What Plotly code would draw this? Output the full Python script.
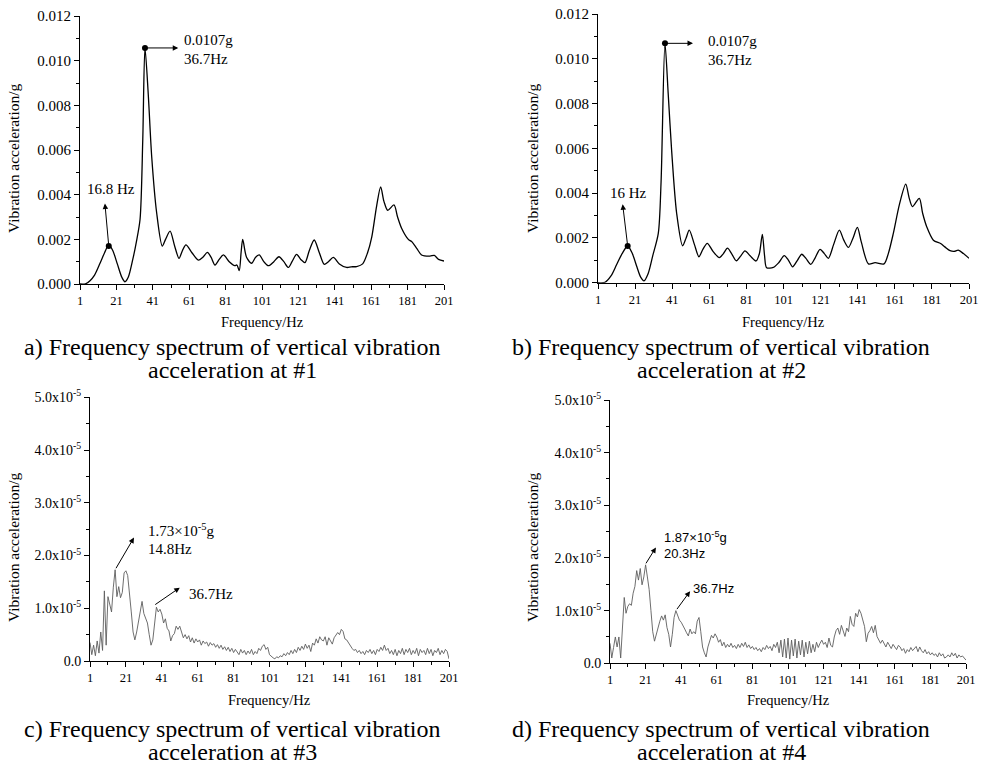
import plotly.graph_objects as go

W, H = 986, 767

# ---------------- data ----------------
# (a) #1 – smooth spectrum (frequency Hz, acceleration g)
a_freq = [1, 4, 6.5, 9, 12, 14.5, 16.8, 19, 21.5, 24, 25.7, 27.5, 30, 32, 34, 35.5, 36.7, 38.5,
          40.4, 43.1, 46.2, 48, 50.5, 53, 55.4, 57.3, 59.2, 62.5, 66, 68.5, 71, 73, 75.2, 77.5,
          79.8, 83, 86, 87.2, 88.5, 89.5, 90.4, 92.5, 95.3, 97.5, 99.5, 102, 104.5, 107.5, 110.3,
          113, 115.5, 117.5, 120, 122.3, 124.6, 127, 129.7, 132.5, 135.2, 137.5, 140.2, 143.5,
          147.5, 150, 153, 156.3, 159, 161.3, 164, 166.2, 168, 170.1, 173.5, 175.5, 177.7, 181.4,
          183.2, 186, 188.7, 193.3, 195.7, 198, 201]
a_val = [0.0, 0.00001, 0.00015, 0.0004, 0.00093, 0.0014, 0.00175, 0.0015, 0.0009, 0.0003, 0.0001,
         0.0003, 0.0011, 0.0019, 0.0029, 0.0065, 0.01057, 0.0085, 0.0057, 0.0032, 0.0017, 0.0020,
         0.00237, 0.0017, 0.00115, 0.0015, 0.00175, 0.0014, 0.00107, 0.0012, 0.00142, 0.0012,
         0.00085, 0.0011, 0.0013, 0.0010, 0.00082, 0.00085, 0.0006, 0.0014, 0.0020, 0.0012,
         0.00093, 0.0012, 0.0013, 0.0010, 0.00082, 0.0010, 0.00122, 0.0010, 0.00074, 0.0010,
         0.00133, 0.0011, 0.00096, 0.0015, 0.00197, 0.0014, 0.00088, 0.0010, 0.00119, 0.0009,
         0.00074, 0.00077, 0.00078, 0.0009, 0.0014, 0.0021, 0.0035, 0.00435, 0.0037, 0.0033,
         0.00354, 0.0030, 0.0025, 0.0020, 0.0019, 0.0016, 0.0013, 0.00125, 0.00128, 0.0011, 0.00103]
a_mark_f = [16.8, 36.7]
a_mark_v = [0.0017, 0.01057]

# (b) #2 – smooth spectrum
b_freq = [1, 4.8, 8, 11, 14, 17, 19.5, 22, 24, 25.8, 28, 30.5, 33.5, 35, 37.1, 38.8, 40.7, 43.4,
          46.6, 48.5, 50.2, 53, 55.4, 57.6, 59.9, 63, 66.4, 68.6, 70.8, 73, 75.6, 78, 80.2, 83,
          86.2, 88, 89.6, 90.8, 91.9, 95.5, 98.5, 101.4, 103.7, 105.9, 108.5, 110.8, 113, 115.7,
          118, 120.7, 123, 125.2, 128, 131.1, 133.5, 136, 138.5, 140.8, 143, 146.8, 150.4, 155.2,
          157.5, 160.2, 163.5, 166.9, 168.7, 170.5, 174.2, 176, 178.2, 181.8, 185.7, 188, 190.8,
          193, 195.2, 198, 201]
b_val = [0.0, 0.00002, 0.0003, 0.0008, 0.0013, 0.00164, 0.0013, 0.0007, 0.00025, 0.00008, 0.0004,
         0.0012, 0.0022, 0.0045, 0.01069, 0.0085, 0.0059, 0.0031, 0.00165, 0.0020, 0.00235, 0.0017,
         0.00116, 0.0015, 0.00176, 0.0014, 0.00112, 0.0013, 0.00154, 0.0013, 0.00098, 0.0012,
         0.00142, 0.0012, 0.00097, 0.0013, 0.00216, 0.0012, 0.00067, 0.00068, 0.0009, 0.00121,
         0.0010, 0.00071, 0.0010, 0.00127, 0.0011, 0.00082, 0.0011, 0.00149, 0.0013, 0.00109,
         0.0017, 0.00235, 0.0019, 0.00158, 0.0020, 0.00247, 0.0018, 0.00084, 0.0009, 0.00084,
         0.0013, 0.0022, 0.0035, 0.0044, 0.0038, 0.0034, 0.00377, 0.0031, 0.0025, 0.0019,
         0.00175, 0.0016, 0.00143, 0.0014, 0.00145, 0.0013, 0.00109]
b_mark_f = [17.0, 37.1]
b_mark_v = [0.00164, 0.01069]

# (c) #3 and (d) #4 – noisy spectra, 1 Hz steps, values in units of 1e-5 g
cd_freq = list(range(1, 202))
c_val_e5 = [
    0.35, 0.12, 0.30, 0.10, 0.38, 0.15, 0.55, 0.20, 1.33, 0.30,
    1.22, 1.10, 0.93, 1.40, 1.73, 1.22, 1.41, 1.20, 1.30, 1.67,
    1.71, 1.62, 1.20, 0.93, 0.55, 0.40, 0.55, 0.75, 0.98, 1.13,
    0.90, 0.82, 0.72, 0.50, 0.30, 0.40, 0.75, 1.02, 0.93, 0.98,
    0.89, 0.72, 0.80, 0.62, 0.57, 0.38, 0.48, 0.52, 0.66, 0.60,
    0.66, 0.54, 0.44, 0.50, 0.42, 0.48, 0.36, 0.44, 0.34, 0.42,
    0.36, 0.40, 0.30, 0.38, 0.33, 0.36, 0.28, 0.35, 0.30, 0.33,
    0.26, 0.31, 0.24, 0.30, 0.22, 0.27, 0.20, 0.26, 0.18, 0.24,
    0.16, 0.22, 0.18, 0.12, 0.22, 0.15, 0.20, 0.12, 0.19, 0.14,
    0.22, 0.12, 0.18, 0.14, 0.24, 0.20, 0.28, 0.31, 0.22, 0.26,
    0.12, 0.08, 0.06, 0.04, 0.08, 0.06, 0.10, 0.08, 0.14, 0.10,
    0.16, 0.12, 0.20, 0.14, 0.22, 0.16, 0.26, 0.20, 0.28, 0.22,
    0.32, 0.24, 0.30, 0.18, 0.34, 0.30, 0.42, 0.34, 0.46, 0.40,
    0.38, 0.46, 0.30, 0.44, 0.38, 0.32, 0.44, 0.48, 0.54, 0.50,
    0.60, 0.56, 0.42, 0.40, 0.34, 0.28, 0.24, 0.20, 0.22, 0.16,
    0.20, 0.14, 0.18, 0.12, 0.20, 0.16, 0.22, 0.14, 0.20, 0.12,
    0.22, 0.18, 0.26, 0.20, 0.30, 0.20, 0.24, 0.14, 0.20, 0.12,
    0.22, 0.10, 0.20, 0.14, 0.24, 0.12, 0.22, 0.16, 0.24, 0.12,
    0.20, 0.14, 0.24, 0.10, 0.22, 0.16, 0.20, 0.12, 0.24, 0.14,
    0.22, 0.10, 0.20, 0.16, 0.24, 0.12, 0.20, 0.14, 0.22, 0.18, 0.04]
d_val_e5 = [
    0.38, 0.10, 0.30, 0.50, 0.31, 0.50, 0.10, 0.76, 1.25, 0.95,
    1.08, 1.13, 1.10, 1.33, 1.46, 1.76, 1.58, 1.80, 1.49, 1.64,
    1.87, 1.64, 1.40, 1.00, 0.60, 0.42, 0.55, 0.70, 0.80, 0.90,
    0.82, 0.92, 0.68, 0.55, 0.31, 0.55, 0.87, 1.00, 0.90, 0.82,
    0.78, 0.70, 0.65, 0.58, 0.52, 0.65, 0.56, 0.60, 0.56, 0.80,
    0.87, 0.60, 0.31, 0.20, 0.12, 0.31, 0.45, 0.53, 0.48, 0.56,
    0.50, 0.40, 0.45, 0.33, 0.40, 0.30, 0.36, 0.31, 0.38, 0.30,
    0.34, 0.28, 0.36, 0.30, 0.38, 0.32, 0.40, 0.30, 0.35, 0.28,
    0.32, 0.26, 0.30, 0.24, 0.28, 0.22, 0.30, 0.26, 0.34, 0.28,
    0.32, 0.24, 0.36, 0.30, 0.40, 0.20, 0.44, 0.12, 0.46, 0.10,
    0.48, 0.08, 0.44, 0.14, 0.46, 0.10, 0.42, 0.16, 0.44, 0.12,
    0.40, 0.18, 0.42, 0.20, 0.36, 0.22, 0.40, 0.30, 0.38, 0.44,
    0.36, 0.40, 0.30, 0.48, 0.34, 0.31, 0.50, 0.62, 0.67, 0.55,
    0.72, 0.60, 0.51, 0.67, 0.60, 0.89, 0.74, 0.70, 0.95, 0.88,
    1.02, 0.95, 0.80, 0.70, 0.41, 0.57, 0.62, 0.70, 0.58, 0.72,
    0.51, 0.45, 0.38, 0.44, 0.36, 0.31, 0.40, 0.35, 0.28, 0.36,
    0.30, 0.26, 0.34, 0.31, 0.24, 0.28, 0.19, 0.26, 0.22, 0.30,
    0.24, 0.28, 0.32, 0.22, 0.31, 0.24, 0.20, 0.26, 0.18, 0.22,
    0.16, 0.20, 0.15, 0.18, 0.12, 0.20, 0.14, 0.18, 0.10, 0.12,
    0.16, 0.12, 0.20, 0.14, 0.19, 0.10, 0.16, 0.12, 0.14, 0.10, 0.06]

x_tickvals = list(range(1, 202, 20))
top_y_tickvals = [0.000, 0.002, 0.004, 0.006, 0.008, 0.010, 0.012]
bot_y_tickvals = [0, 1e-5, 2e-5, 3e-5, 4e-5, 5e-5]
bot_y_ticktext = ["0.0", "1.0x10<sup>-5</sup>", "2.0x10<sup>-5</sup>", "3.0x10<sup>-5</sup>",
                  "4.0x10<sup>-5</sup>", "5.0x10<sup>-5</sup>"]

captions = [
    ("a) Frequency spectrum of vertical vibration", "acceleration at #1"),
    ("b) Frequency spectrum of vertical vibration", "acceleration at #2"),
    ("c) Frequency spectrum of vertical vibration", "acceleration at #3"),
    ("d) Frequency spectrum of vertical vibration", "acceleration at #4"),
]

SERIF = "Liberation Serif"
SANS = "Liberation Sans"


def px(x):
    return x / W


def py(y):
    return 1 - y / H


fig = go.Figure()

# curves
fig.add_trace(go.Scatter(x=a_freq, y=a_val, mode="lines", line=dict(color="black", width=1.3, shape="spline", smoothing=0.8),
                         xaxis="x", yaxis="y", showlegend=False))
fig.add_trace(go.Scatter(x=a_mark_f, y=a_mark_v, mode="markers", marker=dict(color="black", size=6),
                         xaxis="x", yaxis="y", showlegend=False))
fig.add_trace(go.Scatter(x=b_freq, y=b_val, mode="lines", line=dict(color="black", width=1.3, shape="spline", smoothing=0.8),
                         xaxis="x2", yaxis="y2", showlegend=False))
fig.add_trace(go.Scatter(x=b_mark_f, y=b_mark_v, mode="markers", marker=dict(color="black", size=6),
                         xaxis="x2", yaxis="y2", showlegend=False))
fig.add_trace(go.Scatter(x=cd_freq, y=[v * 1e-5 for v in c_val_e5], mode="lines",
                         line=dict(color="#5e5e5e", width=0.9), xaxis="x3", yaxis="y3", showlegend=False))
fig.add_trace(go.Scatter(x=cd_freq, y=[v * 1e-5 for v in d_val_e5], mode="lines",
                         line=dict(color="#5e5e5e", width=0.9), xaxis="x4", yaxis="y4", showlegend=False))

# plot-area pixel boxes: (left, right, top, bottom)
boxes = [(80, 444, 16, 284), (598, 969, 14, 282.7), (90, 449, 397.3, 661), (610, 966, 400, 663.3)]

common_x = dict(range=[1, 201], tickmode="linear", tick0=1, dtick=20, showline=True, linecolor="black",
                linewidth=1, ticks="outside", ticklen=5, tickcolor="black", showgrid=False, zeroline=False,
                automargin=False,
                tickfont=dict(family=SERIF, size=12.5, color="black"),
                minor=dict(tickmode="linear", tick0=1, dtick=10, ticks="outside", ticklen=3, tickcolor="black",
                           showgrid=False))
top_y = dict(range=[0, 0.012], tickmode="array", tickvals=top_y_tickvals, tickformat=".3f", showline=True,
             linecolor="black", linewidth=1, ticks="outside", ticklen=5, tickcolor="black", showgrid=False,
             zeroline=False, automargin=False, tickfont=dict(family=SERIF, size=15, color="black"),
             minor=dict(tickmode="linear", tick0=0, dtick=0.001, ticks="outside", ticklen=3, tickcolor="black",
                        showgrid=False))
bot_y = dict(range=[0, 5e-5], tickmode="array", tickvals=bot_y_tickvals, ticktext=bot_y_ticktext, showline=True,
             linecolor="black", linewidth=1, ticks="outside", ticklen=5, tickcolor="black", showgrid=False,
             zeroline=False, automargin=False, tickfont=dict(family=SERIF, size=14, color="black"),
             minor=dict(tickmode="linear", tick0=0, dtick=0.5e-5, ticks="outside", ticklen=3, tickcolor="black",
                        showgrid=False))

layout_axes = {}
names = [("xaxis", "yaxis", "y", "x"), ("xaxis2", "yaxis2", "y2", "x2"),
         ("xaxis3", "yaxis3", "y3", "x3"), ("xaxis4", "yaxis4", "y4", "x4")]
for i, (xa, ya, yref, xref) in enumerate(names):
    l, r, t, b = boxes[i]
    layout_axes[xa] = dict(common_x, domain=[px(l), px(r)], anchor=yref)
    ydef = top_y if i < 2 else bot_y
    layout_axes[ya] = dict(ydef, domain=[py(b), py(t)], anchor=xref)

annotations = []

# axis titles and captions
for i in range(4):
    l, r, t, b = boxes[i]
    cx = (l + r) / 2
    ytitle_x = 13 if i in (0, 2) else 532
    ytitle_y = 158 if i < 2 else 547
    annotations.append(dict(text="Vibration acceleration/g", x=px(ytitle_x), y=py(ytitle_y), xref="paper",
                            yref="paper", showarrow=False, textangle=-90, xanchor="center", yanchor="middle",
                            font=dict(family=SERIF, size=15.5, color="black")))
    fy = 322 if i < 2 else 700
    annotations.append(dict(text="Frequency/Hz", x=px(cx), y=py(fy), xref="paper", yref="paper", showarrow=False,
                            xanchor="center", yanchor="middle", font=dict(family=SERIF, size=14.5, color="black")))
    capx = 232 if i in (0, 2) else 721
    c1y, c2y = (347, 370) if i < 2 else (729, 752)
    annotations.append(dict(text=captions[i][0], x=px(capx), y=py(c1y), xref="paper", yref="paper",
                            showarrow=False, xanchor="center", yanchor="middle",
                            font=dict(family=SERIF, size=24, color="black")))
    annotations.append(dict(text=captions[i][1], x=px(capx), y=py(c2y), xref="paper", yref="paper",
                            showarrow=False, xanchor="center", yanchor="middle",
                            font=dict(family=SERIF, size=24, color="black")))


def arrow(xr, yr, tail, head):
    return dict(x=head[0], y=head[1], ax=tail[0], ay=tail[1], xref=xr, yref=yr, axref=xr, ayref=yr, text="",
                showarrow=True, arrowhead=2, arrowsize=1.1, arrowwidth=1, arrowcolor="black", standoff=0,
                startstandoff=0)


def label(text, x, y, family=SERIF, size=15, anchor="left"):
    return dict(text=text, x=px(x), y=py(y), xref="paper", yref="paper", showarrow=False, xanchor=anchor,
                yanchor="middle", font=dict(family=family, size=size, color="black"))


# (a)
annotations.append(arrow("x", "y", (36.7, 0.01057), (55, 0.01057)))
annotations.append(arrow("x", "y", (16.8, 0.0017), (14.7, 0.0036)))
annotations.append(label("0.0107g", 182, 40))
annotations.append(label("36.7Hz", 182, 59))
annotations.append(label("16.8 Hz", 111, 189, anchor="center"))
# (b)
annotations.append(arrow("x2", "y2", (37.1, 0.01069), (52.2, 0.01069)))
annotations.append(arrow("x2", "y2", (17.0, 0.00164), (14.3, 0.0035)))
annotations.append(label("0.0107g", 706, 41))
annotations.append(label("36.7Hz", 706, 60))
annotations.append(label("16 Hz", 628, 193, anchor="center"))
# (c)
annotations.append(arrow("x3", "y3", (15.0, 1.73e-5), (25.5, 2.34e-5)))
annotations.append(arrow("x3", "y3", (36.5, 1.05e-5), (51, 1.39e-5)))
annotations.append(label("1.73×10<sup>-5</sup>g", 146, 530))
annotations.append(label("14.8Hz", 146, 549))
annotations.append(label("36.7Hz", 187, 594))
# (d)
annotations.append(arrow("x4", "y4", (20.7, 1.87e-5), (26.8, 2.2e-5)))
annotations.append(arrow("x4", "y4", (38.0, 1.0e-5), (46, 1.37e-5)))
annotations.append(label("1.87×10<sup>-5</sup>g", 662, 537, family=SANS, size=13))
annotations.append(label("20.3Hz", 662, 553, family=SANS, size=13))
annotations.append(label("36.7Hz", 691, 588, family=SANS, size=13))

fig.update_layout(
    template="none",
    width=W, height=H, margin=dict(l=0, r=0, t=0, b=0, pad=0, autoexpand=False),
    paper_bgcolor="white", plot_bgcolor="white", hovermode=False,
    font=dict(family=SERIF, color="black"), showlegend=False, annotations=annotations, **layout_axes)

fig.write_html("out.html", config={"displayModeBar": False, "staticPlot": True},
               post_script="document.body.style.margin='0';document.body.style.overflow='hidden';")
